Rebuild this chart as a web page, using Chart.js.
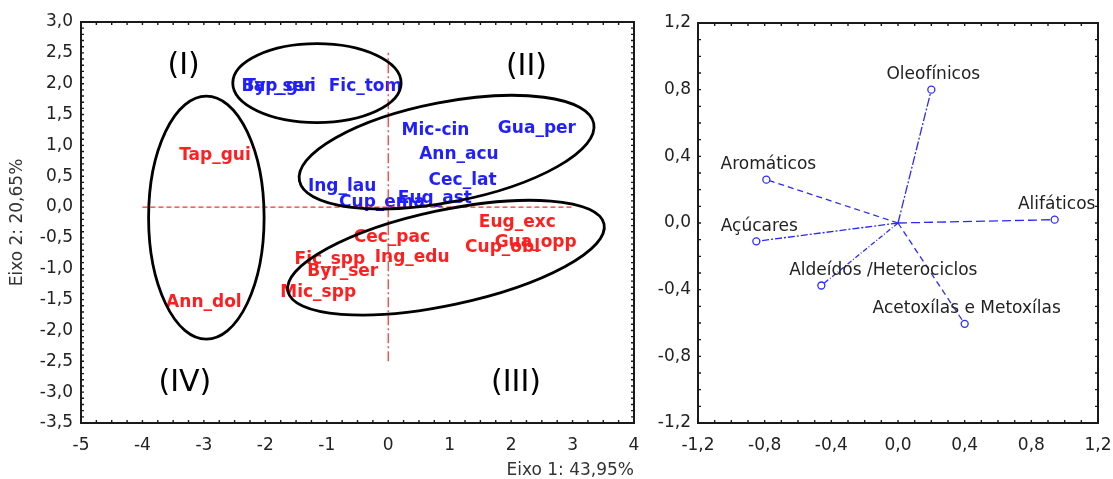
<!DOCTYPE html>
<html>
<head>
<meta charset="utf-8">
<script src="https://cdn.jsdelivr.net/npm/chart.js@4.4.1/dist/chart.umd.min.js"></script>
<style>
  html, body { margin: 0; padding: 0; background: #fff; }
  #wrap { position: relative; width: 1113px; height: 479px; }
  #left { position: absolute; left: 0; top: 0; width: 650px; height: 479px; }
  #right { position: absolute; left: 650px; top: 0; width: 463px; height: 479px; }
</style>
</head>
<body>
<div id="wrap">
  <div id="left"><canvas id="scores"></canvas></div>
  <div id="right"><canvas id="loadings"></canvas></div>
</div>
<script>
// --- scores (left panel) ---
const blueNames = ['Byr_ser', 'Tap_gui', 'Fic_tom', 'Mic-cin', 'Gua_per', 'Ann_acu', 'Cec_lat', 'Ing_lau', 'Cup_ema', 'Eug_ast'];
const blueX = [-1.81, -1.76, -0.37, 0.77, 2.42, 1.15, 1.21, -0.75, -0.10, 0.76];
const blueY = [1.96, 1.95, 1.96, 1.245, 1.27, 0.85, 0.43, 0.34, 0.08, 0.13];

const redNames = ['Tap_gui', 'Ann_dol', 'Eug_exc', 'Gua_opp', 'Cup_obl', 'Cec_pac', 'Ing_edu', 'Fic_spp', 'Byr_ser', 'Mic_spp'];
const redX = [-2.82, -3.00, 2.10, 2.40, 1.86, 0.06, 0.39, -0.95, -0.74, -1.14];
const redY = [0.83, -1.54, -0.25, -0.58, -0.66, -0.50, -0.82, -0.85, -1.04, -1.39];

// red dashed reference axes
const refHx = [-4, 3];
const refVy = [-2.5, 2.5];

// group ellipses (data units) and quadrant labels
const groupCx = [-1.16, -2.96, 0.95, 0.94];
const groupCy = [2.01, -0.17, 0.89, -0.82];
const groupRx = [1.37, 0.94, 2.44, 2.63];
const groupRy = [0.64, 1.97, 0.81, 0.77];
const groupTilt = [0, 0, 11, 12];

const quadNames = ['(I)', '(II)', '(III)', '(IV)'];
const quadX = [-3.33, 2.25, 2.08, -3.31];
const quadY = [2.28, 2.26, -2.85, -2.85];

const scoreXTicks = [-5, -4, -3, -2, -1, 0, 1, 2, 3, 4];
const scoreYTicks = [3, 2.5, 2, 1.5, 1, 0.5, 0, -0.5, -1, -1.5, -2, -2.5, -3, -3.5];

// --- loadings (right panel) ---
const varNames = ['Oleofínicos', 'Aromáticos', 'Alifáticos', 'Açúcares', 'Aldeídos /Heterociclos', 'Acetoxílas e Metoxílas'];
const varX = [0.20, -0.79, 0.94, -0.85, -0.46, 0.40];
const varY = [0.80, 0.26, 0.02, -0.11, -0.375, -0.605];

const loadTicks = [-1.2, -0.8, -0.4, 0, 0.4, 0.8, 1.2];

Chart.defaults.font.family = '"DejaVu Sans", sans-serif';
Chart.defaults.color = '#222';

const fmt = (v, d) => Number(v).toFixed(d).replace('.', ',');
const noPad = s => { s.paddingLeft = 0; s.paddingRight = 0; s.paddingTop = 0; s.paddingBottom = 0; };

function drawFrame(chart, stepX, stepY) {
  const { ctx, chartArea: a, scales: { x, y } } = chart;
  ctx.save();
  ctx.strokeStyle = '#1a1a1a';
  ctx.lineWidth = 1.4;
  ctx.beginPath();
  const nx = Math.round((x.max - x.min) / stepX);
  for (let i = 0; i <= nx; i++) {
    const px = x.getPixelForValue(x.min + i * stepX);
    ctx.moveTo(px, a.top); ctx.lineTo(px, a.top + 3);
    ctx.moveTo(px, a.bottom); ctx.lineTo(px, a.bottom - 3);
  }
  const ny = Math.round((y.max - y.min) / stepY);
  for (let i = 0; i <= ny; i++) {
    const py = y.getPixelForValue(y.min + i * stepY);
    ctx.moveTo(a.left, py); ctx.lineTo(a.left + 3, py);
    ctx.moveTo(a.right, py); ctx.lineTo(a.right - 3, py);
  }
  ctx.stroke();
  ctx.lineWidth = 2;
  ctx.strokeRect(a.left, a.top, a.right - a.left, a.bottom - a.top);
  ctx.restore();
}

const scoreDecor = {
  id: 'scoreDecor',
  beforeDatasetsDraw(chart) {
    const { ctx, scales: { x, y } } = chart;
    ctx.save();
    ctx.font = 'bold 17px "DejaVu Sans"';
    ctx.textAlign = 'center';
    ctx.textBaseline = 'middle';
    ctx.fillStyle = '#1f1fff';
    blueNames.forEach((n, i) => ctx.fillText(n, x.getPixelForValue(blueX[i]), y.getPixelForValue(blueY[i])));
    ctx.fillStyle = '#ff1f1f';
    redNames.forEach((n, i) => ctx.fillText(n, x.getPixelForValue(redX[i]), y.getPixelForValue(redY[i])));
    ctx.restore();
  },
  afterDatasetsDraw(chart) {
    const { ctx, scales: { x, y } } = chart;
    const ux = x.getPixelForValue(1) - x.getPixelForValue(0);
    const uy = y.getPixelForValue(0) - y.getPixelForValue(1);
    ctx.save();
    ctx.strokeStyle = '#000';
    ctx.lineWidth = 2.8;
    groupCx.forEach((cx, i) => {
      ctx.beginPath();
      ctx.ellipse(x.getPixelForValue(cx), y.getPixelForValue(groupCy[i]),
        groupRx[i] * ux, groupRy[i] * uy, -groupTilt[i] * Math.PI / 180, 0, Math.PI * 2);
      ctx.stroke();
    });
    ctx.font = '30px "DejaVu Sans"';
    ctx.fillStyle = '#000';
    ctx.textAlign = 'center';
    ctx.textBaseline = 'middle';
    quadNames.forEach((q, i) => ctx.fillText(q, x.getPixelForValue(quadX[i]), y.getPixelForValue(quadY[i])));
    ctx.restore();
  },
  afterDraw(chart) { drawFrame(chart, 0.25, 0.1); }
};

new Chart(document.getElementById('scores'), {
  type: 'scatter',
  data: {
    datasets: [
      {
        data: refHx.map(v => ({ x: v, y: 0 })),
        showLine: true, pointRadius: 0,
        borderColor: '#ff2a2a', borderWidth: 1.2, borderDash: [5, 3]
      },
      {
        data: refVy.map(v => ({ x: 0, y: v })),
        showLine: true, pointRadius: 0,
        borderColor: '#ff2a2a', borderWidth: 1.2, borderDash: [10, 3, 2, 3]
      }
    ]
  },
  options: {
    responsive: true,
    maintainAspectRatio: false,
    animation: false,
    layout: { padding: { left: 0, top: 22, right: 16, bottom: 0 } },
    plugins: { legend: { display: false }, tooltip: { enabled: false } },
    scales: {
      x: {
        type: 'linear', min: -5, max: 4,
        grid: { display: false, drawTicks: false }, border: { display: false },
        afterBuildTicks: s => { s.ticks = scoreXTicks.map(v => ({ value: v })); },
        afterFit: s => { s.height = 56; noPad(s); },
        ticks: { font: { size: 17 }, padding: 12, color: '#222', callback: v => fmt(v, 0) },
        title: {
          display: true, text: 'Eixo 1: 43,95%', align: 'end',
          font: { size: 17, lineHeight: 1 }, color: '#333', padding: { top: 0, bottom: 0 }
        }
      },
      y: {
        type: 'linear', min: -3.5, max: 3,
        grid: { display: false, drawTicks: false }, border: { display: false },
        afterBuildTicks: s => { s.ticks = scoreYTicks.map(v => ({ value: v })); },
        afterFit: s => { s.width = 81; noPad(s); },
        ticks: { font: { size: 17 }, padding: 8, color: '#222', callback: v => fmt(v, 1) },
        title: {
          display: true, text: 'Eixo 2: 20,65%',
          font: { size: 17, lineHeight: 1 }, color: '#333', padding: { top: 9, bottom: 0 }
        }
      }
    }
  },
  plugins: [scoreDecor]
});

// label shifts (px) for the loading names, placed above each point
const nameShift = [2, 2, 2, 3, 62, 2];

const loadDecor = {
  id: 'loadDecor',
  afterDatasetsDraw(chart) {
    const { ctx, scales: { x, y } } = chart;
    ctx.save();
    ctx.font = '17px "DejaVu Sans"';
    ctx.fillStyle = '#222';
    ctx.textAlign = 'center';
    ctx.textBaseline = 'middle';
    varNames.forEach((n, i) => {
      ctx.fillText(n, x.getPixelForValue(varX[i]) + nameShift[i], y.getPixelForValue(varY[i]) - 15);
    });
    ctx.restore();
  },
  afterDraw(chart) { drawFrame(chart, 0.1, 0.1); }
};

const dashes = [[9, 2, 2, 2], [6, 4], [9, 4], [7, 2, 2, 2], [5, 2, 1, 2], [6, 4]];

new Chart(document.getElementById('loadings'), {
  type: 'scatter',
  data: {
    datasets: varNames.map((n, i) => ({
      label: n,
      data: [{ x: 0, y: 0 }, { x: varX[i], y: varY[i] }],
      showLine: true,
      borderColor: '#2a2aff',
      borderWidth: 1.3,
      borderDash: dashes[i],
      pointRadius: [0, 3.5],
      pointBorderWidth: 1.3,
      pointBorderColor: '#2a2aff',
      pointBackgroundColor: '#fff'
    }))
  },
  options: {
    responsive: true,
    maintainAspectRatio: false,
    animation: false,
    layout: { padding: { left: 0, top: 23, right: 15, bottom: 0 } },
    plugins: { legend: { display: false }, tooltip: { enabled: false } },
    scales: {
      x: {
        type: 'linear', min: -1.2, max: 1.2,
        grid: { display: false, drawTicks: false }, border: { display: false },
        afterBuildTicks: s => { s.ticks = loadTicks.map(v => ({ value: v })); },
        afterFit: s => { s.height = 56; noPad(s); },
        ticks: { font: { size: 17 }, padding: 12, color: '#222', callback: v => fmt(v, 1) }
      },
      y: {
        type: 'linear', min: -1.2, max: 1.2,
        grid: { display: false, drawTicks: false }, border: { display: false },
        afterBuildTicks: s => { s.ticks = loadTicks.map(v => ({ value: v })); },
        afterFit: s => { s.width = 48; noPad(s); },
        ticks: { font: { size: 17 }, padding: 7, color: '#222', callback: v => fmt(v, 1) }
      }
    }
  },
  plugins: [loadDecor]
});
</script>
</body>
</html>
